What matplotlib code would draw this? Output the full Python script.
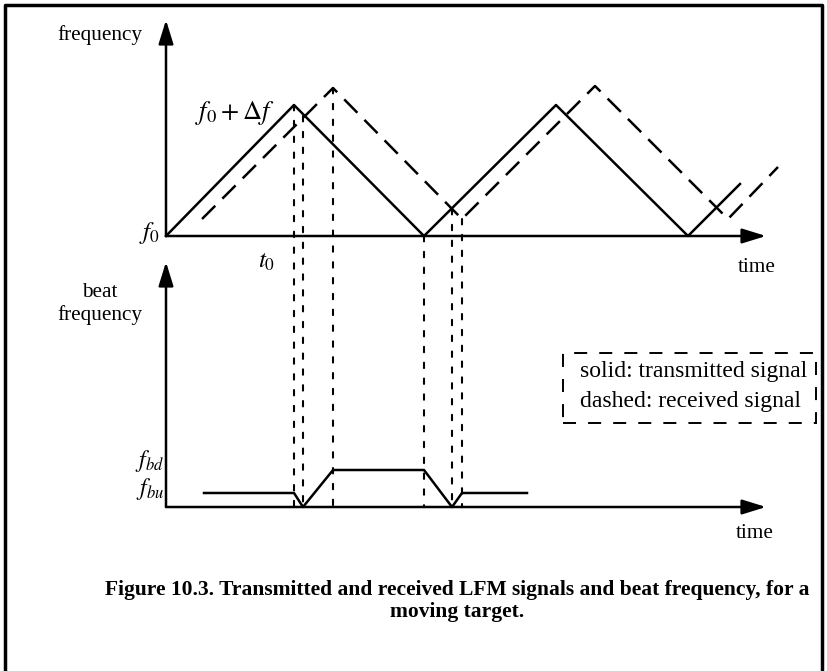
import matplotlib.pyplot as plt
from matplotlib.patches import ConnectionPatch, Rectangle
from matplotlib.lines import Line2D

W, H = 827, 671

# transmitted (solid) and received (dashed) LFM sweeps: time, frequency
tx_t = [0, 128, 258, 390, 522, 574]
tx_f = [0, 131, 0, 131, 0, 52]
rx_t = [36, 167, 296, 429, 562, 612]
rx_f = [17, 148, 17, 150, 17, 69]

# beat frequency
beat_t = [38, 128, 137, 167, 258, 286, 296, 361]
beat_f = [14, 14, 0, 37, 37, 0, 14, 14]

# dotted guides dropped from the sweeps to the beat axis
guide_t = [128, 137, 167, 258, 286, 296]
guide_f = [131, 120, 148, 0, 27, 17]

plt.rcParams['font.family'] = ['Liberation Serif', 'DejaVu Serif']
plt.rcParams['mathtext.fontset'] = 'stix'

fig = plt.figure(figsize=(W / 100, H / 100), dpi=100)


def px_axes(x0, y0, x1, y1):
    # pixel box (left, top, right, bottom) -> axes
    return fig.add_axes([x0 / W, 1 - y1 / H, (x1 - x0) / W, (y1 - y0) / H])


ax1 = px_axes(166, 20, 766, 236)
ax1.set_xlim(0, 600)
ax1.set_ylim(0, 216)
ax2 = px_axes(166, 262, 766, 507)
ax2.set_xlim(0, 600)
ax2.set_ylim(0, 245)

arrow = dict(arrowstyle='-|>,head_length=1.45,head_width=0.45', color='k',
             lw=1.8, shrinkA=0, shrinkB=0, mutation_scale=10)
for ax in (ax1, ax2):
    ax.axis('off')
    ax.annotate('', xy=(1, 0), xytext=(0, 0), xycoords='axes fraction', arrowprops=arrow)
    ax.annotate('', xy=(0, 1), xytext=(0, 0), xycoords='axes fraction', arrowprops=arrow)

ax1.plot(tx_t, tx_f, color='k', lw=1.8, clip_on=False)
ax1.plot(rx_t, rx_f, color='k', lw=1.8, ls=(0, (7.5, 4)), clip_on=False)
ax2.plot(beat_t, beat_f, color='k', lw=1.8, clip_on=False)

for t, f in zip(guide_t, guide_f):
    con = ConnectionPatch(xyA=(t, f), coordsA=ax1.transData,
                          xyB=(t, 0), coordsB=ax2.transData,
                          color='k', lw=1.5, ls=(0, (2.6, 5.0)))
    fig.add_artist(con)

# legend box
ax2.add_patch(Rectangle((397, 84), 253, 70, fill=False, ec='k', lw=1.4,
                        ls=(0, (6.7, 6.2)), clip_on=False))
ax2.text(414, 135, 'solid: transmitted signal', ha='left', va='center', fontsize=17)
ax2.text(414, 106, 'dashed: received signal', ha='left', va='center', fontsize=17)

# labels
ax1.text(-66, 201, 'frequency', ha='center', va='center', fontsize=15.3)
ax1.text(29, 123, r'$f_0 + \Delta f$', ha='left', va='center', fontsize=19)
ax1.text(-6, 3, r'$f_0$', ha='right', va='center', fontsize=18)
ax1.text(101, -26, r'$t_0$', ha='center', va='center', fontsize=18)
ax1.text(591, -32, 'time', ha='center', va='center', fontsize=15.3)

ax2.text(-66, 203, 'beat\nfrequency', ha='center', va='center', fontsize=15.3, linespacing=1.2)
ax2.text(-2, 46, r'$f_{bd}$', ha='right', va='center', fontsize=17)
ax2.text(-2, 18, r'$f_{bu}$', ha='right', va='center', fontsize=17)
ax2.text(589, -26, 'time', ha='center', va='center', fontsize=15.3)

fig.text(457 / W, 1 - 590 / H,
         'Figure 10.3. Transmitted and received LFM signals and beat frequency, for a',
         ha='center', va='center', fontsize=15.5, fontweight='bold')
fig.text(457 / W, 1 - 612 / H, 'moving target.', ha='center', va='center',
         fontsize=15.5, fontweight='bold')

# outer frame (open at the bottom)
fig.add_artist(Line2D([5 / W, 5 / W, 822 / W, 822 / W], [0, 1 - 5 / H, 1 - 5 / H, 0],
                      color='k', lw=2.5))

fig.savefig('out.png', dpi=100)
